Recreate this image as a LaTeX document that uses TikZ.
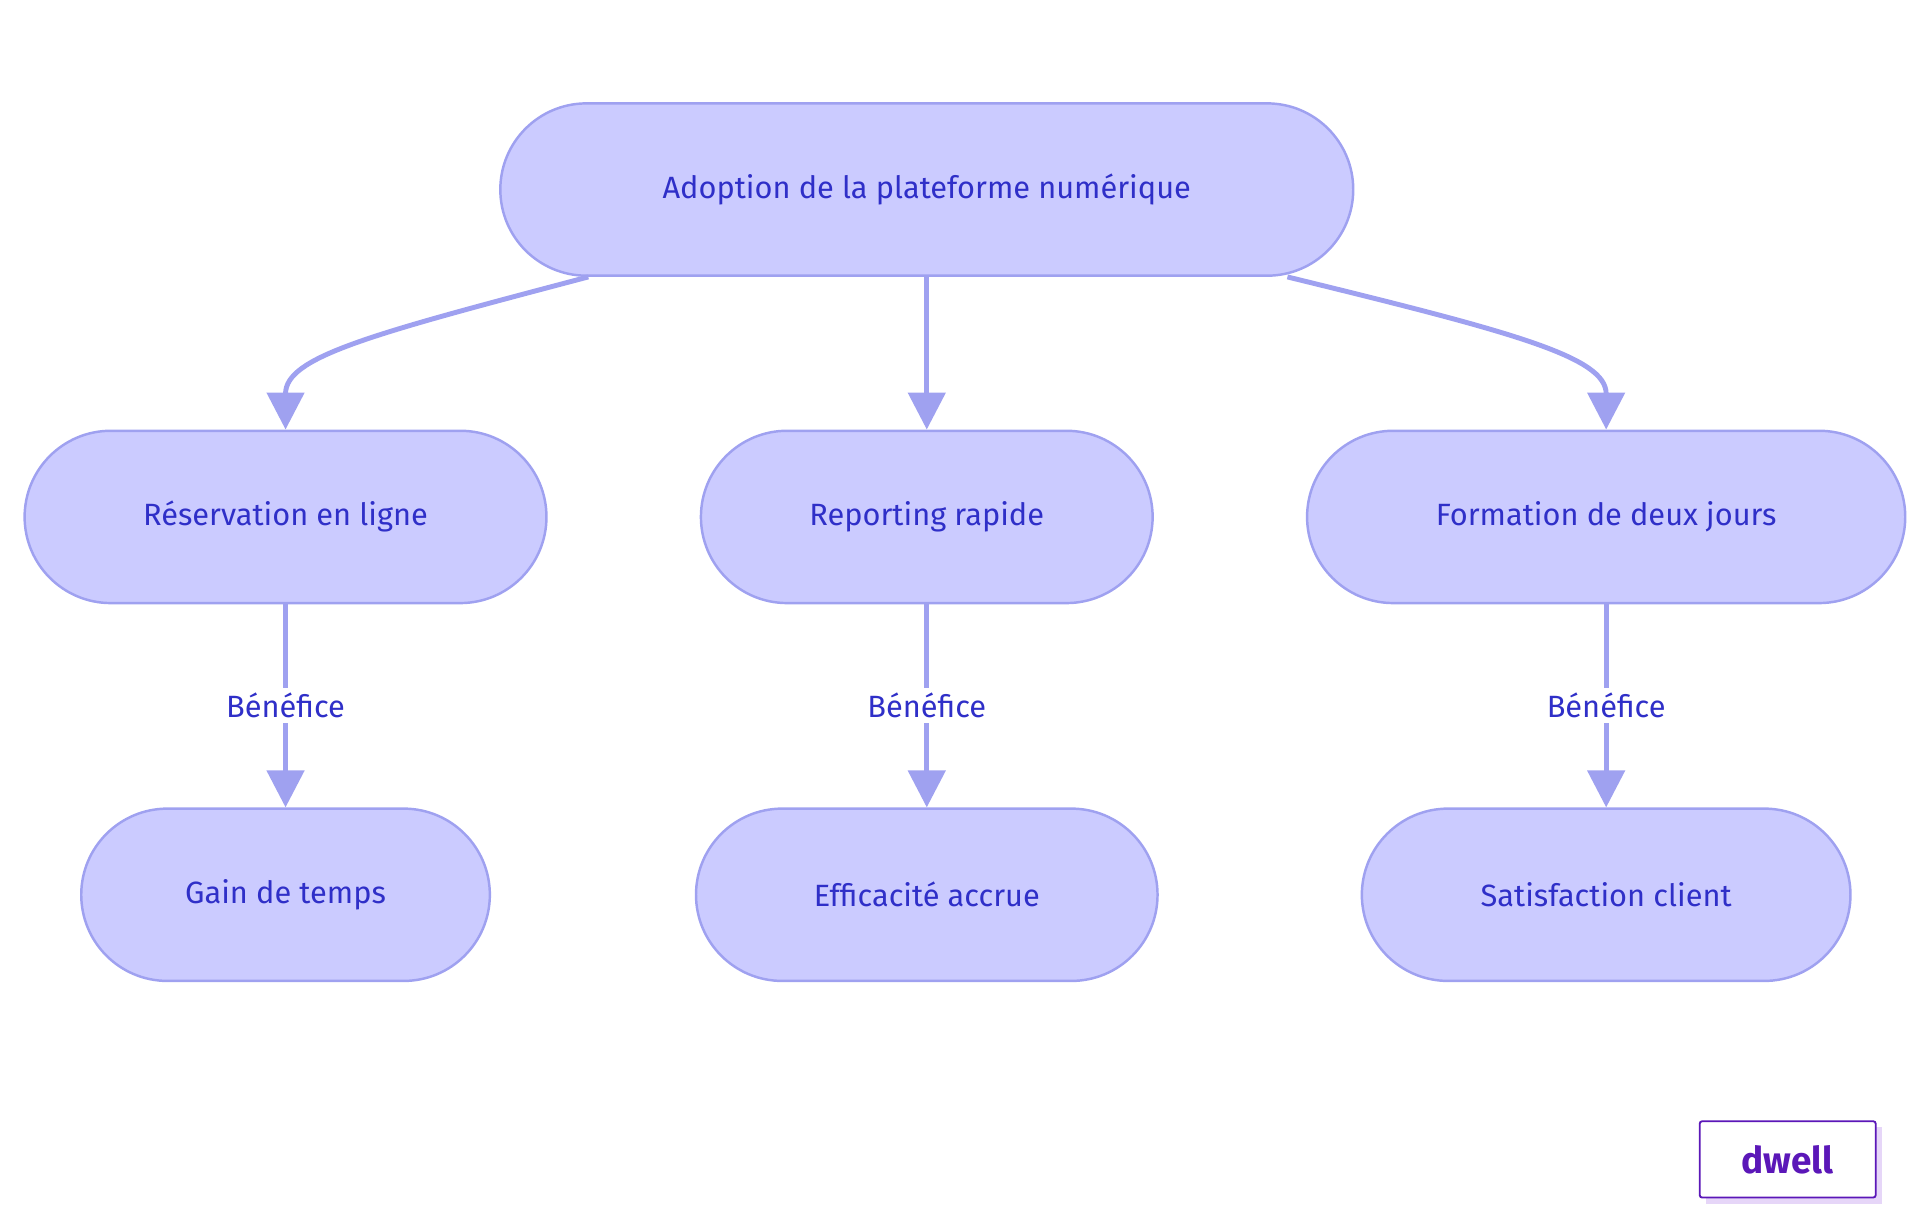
\documentclass[tikz,border=0pt]{standalone}
\usepackage{fontspec}
\setmainfont{Fira Sans}
\usetikzlibrary{arrows.meta}
\definecolor{nfill}{HTML}{CBCBFF}
\definecolor{nline}{HTML}{9FA1F0}
\definecolor{ntext}{HTML}{2F2FC8}
\definecolor{logo}{HTML}{5B17B8}
\definecolor{logoshadow}{HTML}{E6D6F8}
\begin{document}
\begin{tikzpicture}[x=1pt,y=-1pt,
  box/.style={draw=nline,fill=nfill,line width=2pt,rounded corners=70pt,minimum height=140pt,text=ntext,font=\fontsize{25}{30}\selectfont,inner sep=0pt},
  conn/.style={draw=nline,line width=4pt,-{Triangle[width=30pt,length=30pt]}},
  lbl/.style={fill=white,text=ntext,font=\fontsize{25}{30}\selectfont,inner sep=4pt}]
\useasboundingbox (0,0) rectangle (1560,987);
\node[box,minimum width=693pt] (top) at (753,154) {Adoption de la plateforme numérique};
\node[box,minimum width=424pt] (res) at (232,420) {Réservation en ligne};
\node[box,minimum width=367pt] (rep) at (753,420) {Reporting rapide};
\node[box,minimum width=486pt] (for) at (1305,420) {Formation de deux jours};
\node[box,minimum width=332pt] (gain) at (232,727) {Gain de temps};
\node[box,minimum width=375pt] (eff) at (753,727) {Efficacité accrue};
\node[box,minimum width=397pt] (sat) at (1305,727) {Satisfaction client};
\draw[conn] (478,225) .. controls (300,272) and (232,290) .. (res.north);
\draw[conn] (top.south) -- (rep.north);
\draw[conn] (1046,225) .. controls (1230,270) and (1305,290) .. (for.north);
\draw[conn] (res.south) -- node[lbl]{Bénéfice} (gain.north);
\draw[conn] (rep.south) -- node[lbl]{Bénéfice} (eff.north);
\draw[conn] (for.south) -- node[lbl]{Bénéfice} (sat.north);
\fill[logoshadow] (1386,916) rectangle (1529,978);
\node[draw=logo,fill=white,line width=1.5pt,rounded corners=2pt,minimum width=143pt,minimum height=62pt,inner sep=0pt,text=logo,font=\fontsize{30}{36}\selectfont\bfseries] (logo) at (1452.5,942) {dwell};
\end{tikzpicture}
\end{document}
